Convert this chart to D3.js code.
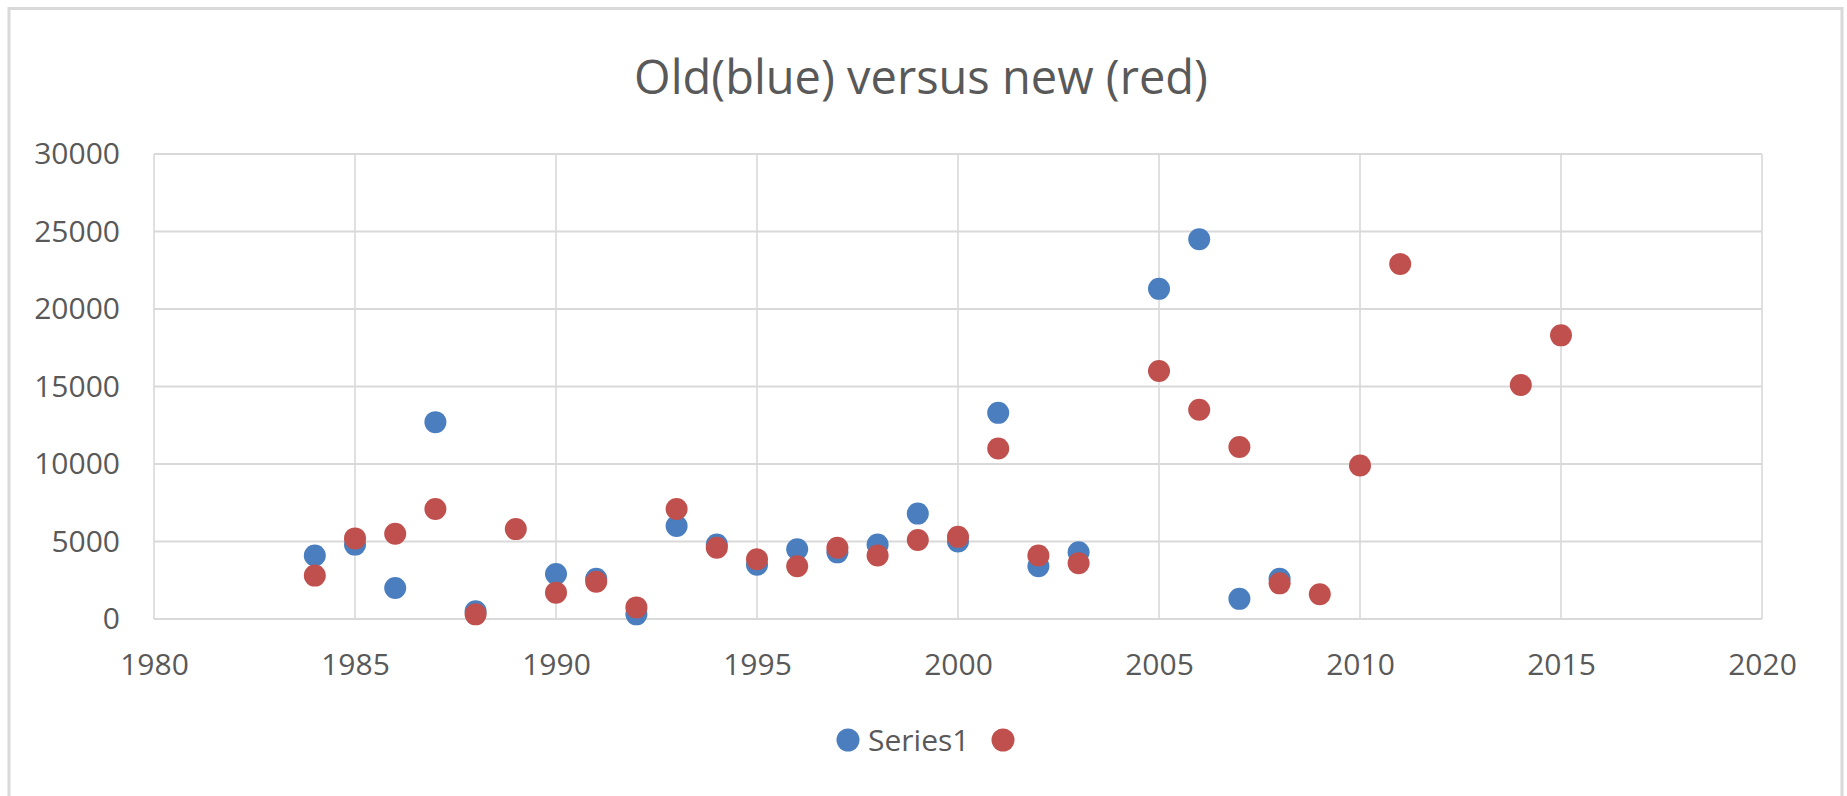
<!DOCTYPE html>
<html>
<head>
<meta charset="utf-8">
<script src="https://cdn.jsdelivr.net/npm/d3@7/dist/d3.min.js"></script>
<style>
  html, body { margin: 0; padding: 0; background: #ffffff; }
  svg { display: block; }
  text { font-family: "Open Sans", "Noto Sans", sans-serif; fill: #595959; }
</style>
</head>
<body>
<svg id="chart" width="1847" height="796"></svg>
<script>
// ---- data ----
const chartTitle = "Old(blue) versus new (red)";
const seriesNames = ["Series1", ""];
const seriesColors = ["#4a7ebf", "#c0504d"];

const blueYears  = [1984, 1985, 1986, 1987, 1988, 1990, 1991, 1992, 1993, 1994, 1995, 1996, 1997, 1998, 1999, 2000, 2001, 2002, 2003, 2005, 2006, 2007, 2008];
const blueValues = [4100, 4800, 2000, 12700, 500, 2900, 2600, 300, 6000, 4800, 3500, 4500, 4300, 4800, 6800, 5000, 13300, 3400, 4300, 21300, 24500, 1300, 2600];

const redYears  = [1984, 1985, 1986, 1987, 1988, 1989, 1990, 1991, 1992, 1993, 1994, 1995, 1996, 1997, 1998, 1999, 2000, 2001, 2002, 2003, 2005, 2006, 2007, 2008, 2009, 2010, 2011, 2014, 2015];
const redValues = [2800, 5200, 5500, 7100, 300, 5800, 1700, 2400, 750, 7100, 4600, 3850, 3400, 4600, 4100, 5100, 5300, 11000, 4100, 3600, 16000, 13500, 11100, 2300, 1600, 9900, 22900, 15100, 18300];

const xTicks = [1980, 1985, 1990, 1995, 2000, 2005, 2010, 2015, 2020];
const yTicks = [0, 5000, 10000, 15000, 20000, 25000, 30000];

// ---- layout ----
const svg = d3.select("#chart");
const plot = { left: 154, right: 1762, top: 154, bottom: 619 };

// outer chart border
svg.append("rect")
  .attr("x", 9).attr("y", 8.5)
  .attr("width", 1833).attr("height", 800)
  .attr("fill", "none")
  .attr("stroke", "#d9d9d9")
  .attr("stroke-width", 3);

const x = d3.scaleLinear().domain([1980, 2020]).range([plot.left, plot.right]);
const y = d3.scaleLinear().domain([0, 30000]).range([plot.bottom, plot.top]);

// gridlines
const grid = svg.append("g");
grid.selectAll("line.h").data(yTicks).join("line")
  .attr("class", "h")
  .attr("x1", plot.left).attr("x2", plot.right)
  .attr("y1", d => y(d)).attr("y2", d => y(d))
  .attr("stroke", "#d9d9d9").attr("stroke-width", 2.2);
grid.selectAll("line.v").data(xTicks).join("line")
  .attr("class", "v")
  .attr("x1", d => x(d)).attr("x2", d => x(d))
  .attr("y1", plot.top).attr("y2", plot.bottom)
  .attr("stroke", "#d9d9d9").attr("stroke-width", 1.6);

// axes (labels only)
const yAxis = d3.axisLeft(y).tickValues(yTicks).tickSize(0).tickPadding(34).tickFormat(d3.format("d"));
const gy = svg.append("g").attr("transform", `translate(${plot.left},0)`).call(yAxis);
gy.select(".domain").remove();
gy.selectAll("text").style("font-size", "30px").attr("fill", "#595959")
  .style("font-family", "'Open Sans', sans-serif");

const xAxis = d3.axisBottom(x).tickValues(xTicks).tickSize(0).tickFormat(d3.format("d"));
const gx = svg.append("g").attr("transform", `translate(0,${plot.bottom})`).call(xAxis);
gx.select(".domain").remove();
gx.selectAll("text").style("font-size", "30px").attr("fill", "#595959")
  .style("font-family", "'Open Sans', sans-serif")
  .attr("y", 56).attr("dy", 0);

// points
const blue = blueYears.map((yr, i) => ({ yr, v: blueValues[i] }));
const red = redYears.map((yr, i) => ({ yr, v: redValues[i] }));
const R = 11;

svg.append("g").selectAll("circle").data(blue).join("circle")
  .attr("cx", d => x(d.yr)).attr("cy", d => y(d.v)).attr("r", R)
  .attr("fill", seriesColors[0]);
svg.append("g").selectAll("circle").data(red).join("circle")
  .attr("cx", d => x(d.yr)).attr("cy", d => y(d.v)).attr("r", R)
  .attr("fill", seriesColors[1]);

// title
svg.append("text")
  .attr("x", 921).attr("y", 94)
  .attr("text-anchor", "middle")
  .style("font-size", "47px")
  .text(chartTitle);

// legend
const legend = svg.append("g");
const legendX = [848, 1003];
seriesNames.forEach((name, i) => {
  legend.append("circle")
    .attr("cx", legendX[i]).attr("cy", 740).attr("r", 11.5)
    .attr("fill", seriesColors[i]);
  if (name) {
    legend.append("text")
      .attr("x", legendX[i] + 20).attr("y", 751)
      .style("font-size", "30px")
      .text(name);
  }
});
</script>
</body>
</html>
